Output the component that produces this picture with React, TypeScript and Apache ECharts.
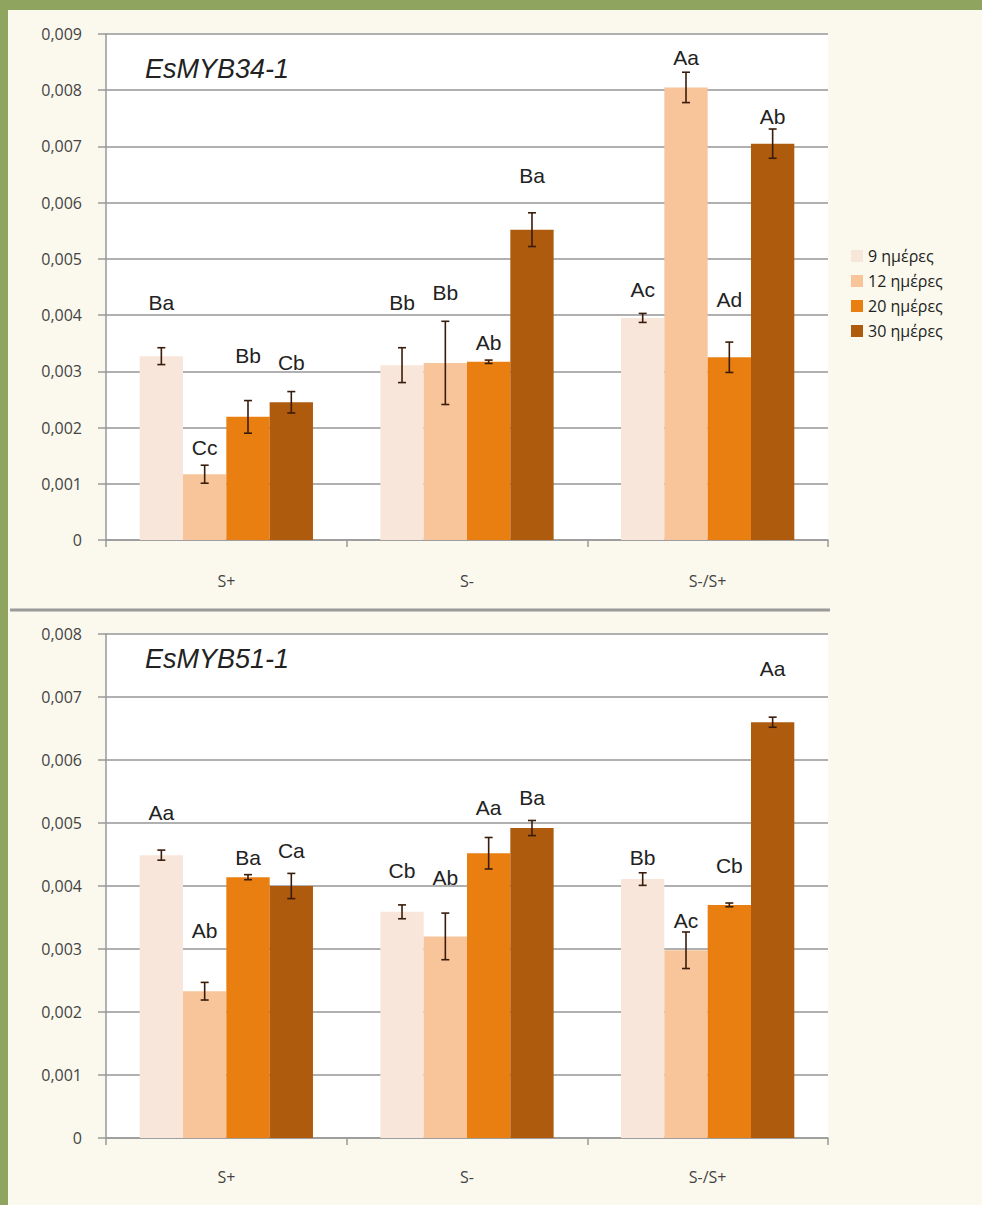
import React, { useEffect, useRef } from "react";
import * as echarts from "echarts";

const categories = ["S+", "S-", "S-/S+"];
const seriesNames = ["9 ημέρες", "12 ημέρες", "20 ημέρες", "30 ημέρες"];
const colors = ["#f9e6da", "#f8c49a", "#e97f10", "#ae5b0e"];

const yTicks34 = ["0", "0,001", "0,002", "0,003", "0,004", "0,005", "0,006", "0,007", "0,008", "0,009"];
const yTicks51 = ["0", "0,001", "0,002", "0,003", "0,004", "0,005", "0,006", "0,007", "0,008"];

// EsMYB34-1
const myb34_9 = [0.00327, 0.00311, 0.00395];
const myb34_12 = [0.00117, 0.00315, 0.00805];
const myb34_20 = [0.00219, 0.00317, 0.00325];
const myb34_30 = [0.00245, 0.00552, 0.00705];
const err34_9 = [0.00015, 0.00031, 0.00008];
const err34_12 = [0.00016, 0.00074, 0.00027];
const err34_20 = [0.00029, 0.00003, 0.00027];
const err34_30 = [0.00019, 0.0003, 0.00026];
const let34_9 = ["Ba", "Bb", "Ac"];
const let34_12 = ["Cc", "Bb", "Aa"];
const let34_20 = ["Bb", "Ab", "Ad"];
const let34_30 = ["Cb", "Ba", "Ab"];
const pos34_9 = [0.00423, 0.00422, 0.00445];
const pos34_12 = [0.00165, 0.0044, 0.00858];
const pos34_20 = [0.00329, 0.00352, 0.00427];
const pos34_30 = [0.00315, 0.00649, 0.00753];

// EsMYB51-1
const myb51_9 = [0.00449, 0.00359, 0.00411];
const myb51_12 = [0.00233, 0.0032, 0.00298];
const myb51_20 = [0.00414, 0.00452, 0.0037];
const myb51_30 = [0.004, 0.00492, 0.0066];
const err51_9 = [0.00008, 0.00011, 0.0001];
const err51_12 = [0.00014, 0.00037, 0.00029];
const err51_20 = [0.00004, 0.00025, 0.00003];
const err51_30 = [0.0002, 0.00012, 0.00008];
const let51_9 = ["Aa", "Cb", "Bb"];
const let51_12 = ["Ab", "Ab", "Ac"];
const let51_20 = ["Ba", "Aa", "Cb"];
const let51_30 = ["Ca", "Ba", "Aa"];
const pos51_9 = [0.00517, 0.00425, 0.00446];
const pos51_12 = [0.0033, 0.00413, 0.00346];
const pos51_20 = [0.00446, 0.00525, 0.00433];
const pos51_30 = [0.00457, 0.0054, 0.00746];

const CAT_GAP = 0.28;

function buildPanel(
  gridIndex: number,
  vals: number[][],
  errs: number[][],
  lets: string[][],
  poss: number[][]
) {
  const series: any[] = vals.map((v, si) => ({
    type: "bar",
    name: seriesNames[si],
    xAxisIndex: gridIndex,
    yAxisIndex: gridIndex,
    data: v,
    barGap: "0%",
    barCategoryGap: CAT_GAP * 100 + "%",
    itemStyle: { color: colors[si] },
    emphasis: { disabled: true },
  }));
  const extra: any[] = [];
  vals.forEach((v, si) => {
    v.forEach((val, ci) => {
      extra.push([ci, si, val, errs[si][ci], poss[si][ci], lets[si][ci]]);
    });
  });
  series.push({
    type: "custom",
    xAxisIndex: gridIndex,
    yAxisIndex: gridIndex,
    data: extra,
    z: 10,
    silent: true,
    encode: { x: 0, y: 2 },
    renderItem: (params: any, api: any) => {
      const ci = api.value(0);
      const si = api.value(1);
      const val = api.value(2);
      const err = api.value(3);
      const lp = api.value(4);
      const txt = extra[params.dataIndex][5];
      const catW = api.size([1, 0])[0];
      const group = catW * (1 - CAT_GAP);
      const bw = group / 4;
      const cx = api.coord([ci, 0])[0] - group / 2 + (si + 0.5) * bw;
      const yTop = api.coord([ci, val + err])[1];
      const yBot = api.coord([ci, val - err])[1];
      const yLab = api.coord([ci, lp])[1];
      const cap = 4;
      const st = { stroke: "#3a1c0c", lineWidth: 1.6 };
      return {
        type: "group",
        children: [
          { type: "line", shape: { x1: cx, y1: yTop, x2: cx, y2: yBot }, style: st },
          { type: "line", shape: { x1: cx - cap, y1: yTop, x2: cx + cap, y2: yTop }, style: st },
          { type: "line", shape: { x1: cx - cap, y1: yBot, x2: cx + cap, y2: yBot }, style: st },
          {
            type: "text",
            x: cx,
            y: yLab,
            style: {
              text: txt,
              fill: "#222",
              font: '21px "Liberation Sans", Arial, sans-serif',
              align: "center",
              verticalAlign: "middle",
            },
          },
        ],
      };
    },
  });
  return series;
}

export default function App() {
  const ref = useRef<HTMLDivElement>(null);
  useEffect(() => {
    if (!ref.current) return;
    const chart = echarts.init(ref.current, undefined, { renderer: "svg" });
    const axisFont = { fontFamily: "'Open Sans', Lato, sans-serif", fontSize: 16, color: "#444" };
    const mkX = (gi: number, margin: number) => ({
      type: "category",
      gridIndex: gi,
      data: categories,
      axisLine: { lineStyle: { color: "#999", width: 1.5 } },
      axisTick: { show: true, length: 7, lineStyle: { color: "#999", width: 1.5 } },
      axisLabel: { ...axisFont, margin },
    });
    const mkY = (gi: number, max: number, ticks: string[]) => ({
      type: "value",
      gridIndex: gi,
      min: 0,
      max,
      interval: 0.001,
      axisLine: { show: true, lineStyle: { color: "#999", width: 1.5 } },
      axisTick: { show: true, length: 8, lineStyle: { color: "#999", width: 1.5 } },
      axisLabel: {
        ...axisFont,
        margin: 24,
        formatter: (v: number) => ticks[Math.round(v / 0.001)] ?? "",
      },
      splitLine: { show: true, lineStyle: { color: "#b0b0b0", width: 2 } },
    });
    const option: any = {
      animation: false,
      backgroundColor: "transparent",
      grid: [
        { left: 106, top: 34, width: 722, height: 506, show: true, backgroundColor: "#ffffff", borderWidth: 0 },
        { left: 106, top: 634, width: 722, height: 504, show: true, backgroundColor: "#ffffff", borderWidth: 0 },
      ],
      xAxis: [mkX(0, 33), mkX(1, 31)],
      yAxis: [mkY(0, 0.009, yTicks34), mkY(1, 0.008, yTicks51)],
      legend: {
        orient: "vertical",
        left: 846,
        top: 243,
        itemWidth: 12,
        itemHeight: 12,
        itemGap: 9,
        icon: "rect",
        data: seriesNames,
        textStyle: { fontFamily: "'Open Sans', Lato, sans-serif", fontSize: 16, color: "#222" },
        selectedMode: false,
      },
      graphic: [
        {
          type: "line",
          shape: { x1: 10, y1: 610, x2: 830, y2: 610 },
          style: { stroke: "#9a9a9a", lineWidth: 3 },
          z: 5,
        },
        {
          type: "text",
          left: 145,
          top: 55,
          style: {
            text: "EsMYB34-1",
            font: 'italic 27px "Liberation Sans", Arial, sans-serif',
            fill: "#222",
          },
          z: 20,
        },
        {
          type: "text",
          left: 145,
          top: 645,
          style: {
            text: "EsMYB51-1",
            font: 'italic 27px "Liberation Sans", Arial, sans-serif',
            fill: "#222",
          },
          z: 20,
        },
      ],
      series: [
        ...buildPanel(
          0,
          [myb34_9, myb34_12, myb34_20, myb34_30],
          [err34_9, err34_12, err34_20, err34_30],
          [let34_9, let34_12, let34_20, let34_30],
          [pos34_9, pos34_12, pos34_20, pos34_30]
        ),
        ...buildPanel(
          1,
          [myb51_9, myb51_12, myb51_20, myb51_30],
          [err51_9, err51_12, err51_20, err51_30],
          [let51_9, let51_12, let51_20, let51_30],
          [pos51_9, pos51_12, pos51_20, pos51_30]
        ),
      ],
    };
    chart.setOption(option);
    return () => chart.dispose();
  }, []);
  return (
    <div style={{ position: "absolute", left: 0, top: 0, width: 982, height: 1205, background: "#8fa45e", overflow: "hidden" }}>
      <div style={{ position: "absolute", left: 8, top: 10, width: 974, height: 1195, background: "#fbf9ed" }} />
      <div ref={ref} style={{ position: "absolute", left: 0, top: 0, width: 982, height: 1205 }} />
    </div>
  );
}
